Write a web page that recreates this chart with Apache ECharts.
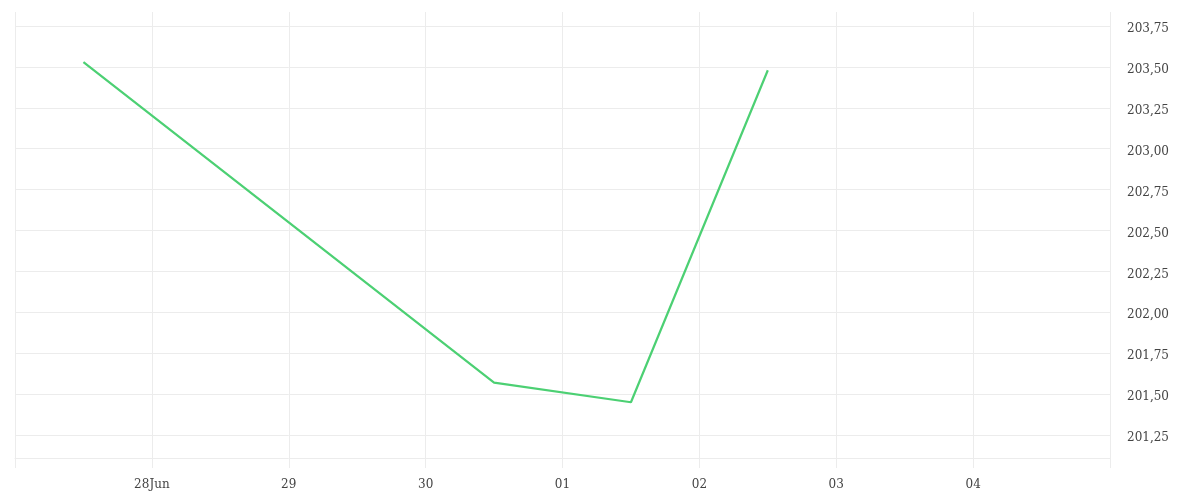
<!DOCTYPE html>
<html>
<head>
<meta charset="utf-8">
<script src="https://cdn.jsdelivr.net/npm/echarts@6/dist/echarts.min.js"></script>
<style>
  html, body { margin: 0; padding: 0; background: #fff; }
  #chart { width: 1200px; height: 500px; }
</style>
</head>
<body>
<div id="chart"></div>
<script>
// ---- data ----
const dates = ['2023-06-27 12:00', '2023-06-30 12:00', '2023-07-01 12:00', '2023-07-02 12:00'];
const values = [203.53, 201.57, 201.45, 203.48];
const xStart = '2023-06-27';
const xEnd = '2023-07-05';
const xTickLabels = ['', '28Jun', '29', '30', '01', '02', '03', '04', ''];
const yTicks = [201.25, 201.5, 201.75, 202.0, 202.25, 202.5, 202.75, 203.0, 203.25, 203.5, 203.75];
const yMin = 201.109;
const yMax = 203.836;

const DAY = 86400000;
const chart = echarts.init(document.getElementById('chart'));
const startTs = echarts.time.parse(xStart).getTime();

const gridColor = '#ececec';

chart.setOption({
  animation: false,
  backgroundColor: '#ffffff',
  grid: { left: 15, right: 90, top: 12, bottom: 42 },
  xAxis: {
    type: 'time',
    min: xStart,
    max: xEnd,
    minInterval: DAY,
    maxInterval: DAY,
    splitNumber: 8,
    axisLine: { show: true, lineStyle: { color: gridColor, width: 1 } },
    axisTick: { show: true, length: 10, lineStyle: { color: gridColor } },
    splitLine: { show: true, lineStyle: { color: gridColor, width: 1 } },
    axisLabel: {
      margin: 21,
      color: '#444',
      fontFamily: 'DejaVu Serif',
      fontSize: 12,
      hideOverlap: false,
      formatter: function (v) {
        const idx = Math.round((v - startTs) / DAY);
        return xTickLabels[idx] !== undefined ? xTickLabels[idx] : '';
      }
    }
  },
  yAxis: {
    type: 'value',
    position: 'right',
    min: yMin,
    max: yMax,
    axisLine: { show: false },
    axisTick: { show: false, customValues: yTicks },
    splitLine: { show: true, lineStyle: { color: gridColor, width: 1 } },
    axisLabel: {
      margin: 17,
      color: '#444',
      fontFamily: 'DejaVu Serif',
      fontSize: 12,
      verticalAlign: 'top',
      lineHeight: 6,
      customValues: yTicks,
      formatter: function (v) { return v.toFixed(2).replace('.', ','); }
    }
  },
  series: [{
    type: 'line',
    data: dates.map((d, i) => [d, values[i]]),
    showSymbol: false,
    symbol: 'none',
    lineStyle: { color: '#4cd073', width: 2.2 },
    itemStyle: { color: '#4cd073' }
  }]
});
</script>
</body>
</html>
